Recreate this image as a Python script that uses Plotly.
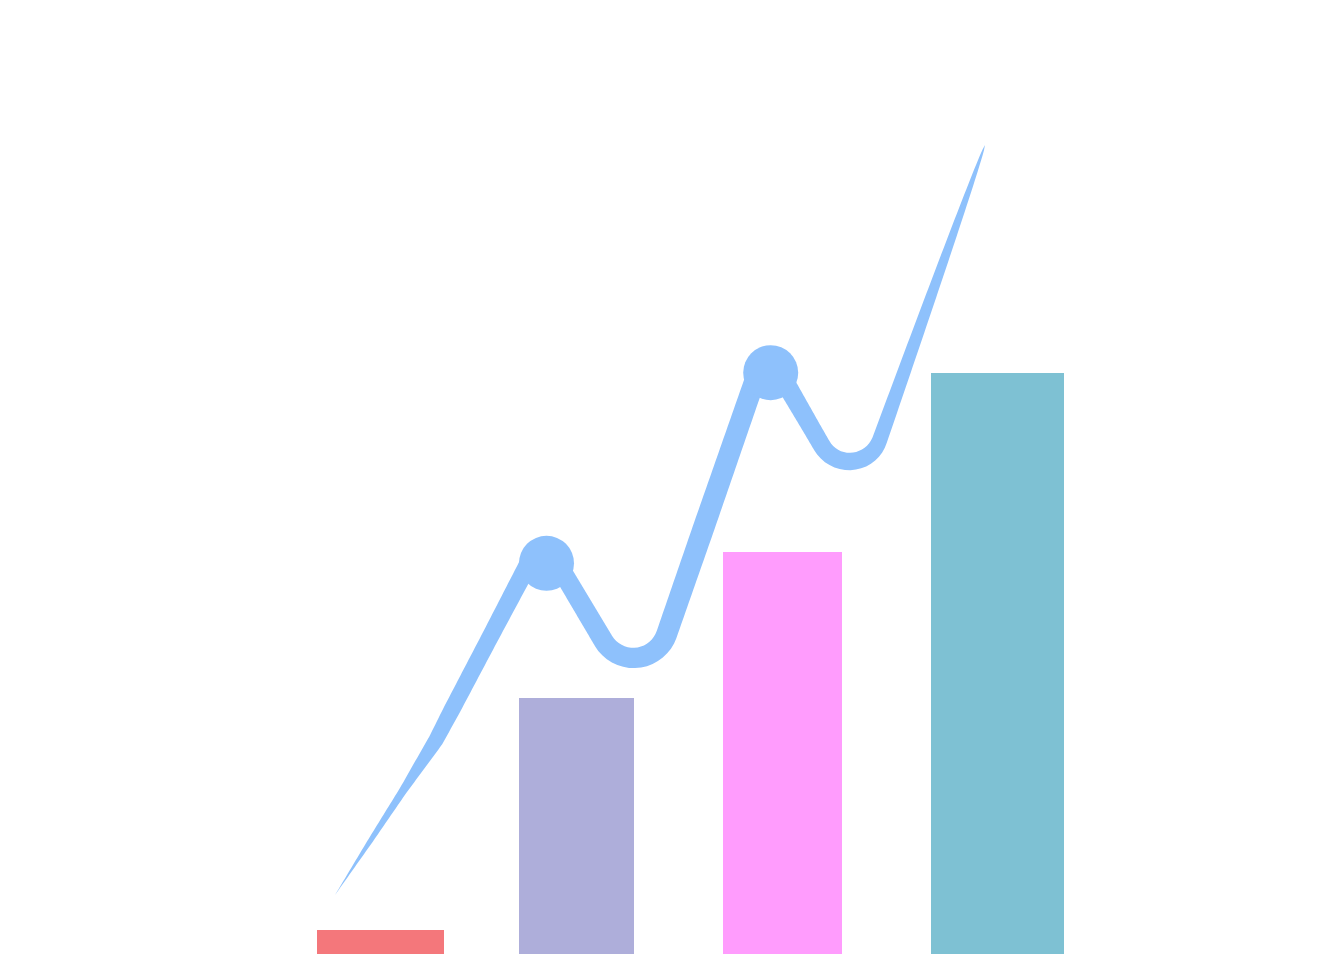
import numpy as np
import plotly.graph_objects as go

# chart units: 1 unit = 100 px on both axes, y measured up from the bottom edge
bar_x = [3.805, 5.765, 7.825, 9.975]
bar_width = [1.27, 1.15, 1.19, 1.33]
bar_value = [0.24, 2.56, 4.02, 5.81]
bar_colors = ["#F4777B", "#AEAEDA", "#FF9CFD", "#7EC1D3"]

# trend line vertices (peaks and troughs are rounded off)
line_x = [3.35, 4.357, 5.422, 6.419, 7.657, 8.564, 9.85]
line_y = [0.59, 2.135, 4.161, 2.485, 6.05, 4.488, 8.09]
# dots sitting on the two peaks
dot_x = [5.465, 7.707]
dot_y = [3.907, 5.813]

LINE_COLOR = "#8EC1FC"
# corner rounding radius for each rounded vertex (units)
corner_r = {2: 0.14, 3: 0.35, 4: 0.14, 5: 0.32}
DOT_SIZE = 55
# stroke width (px) along the line, position = segment index + fraction
width_pos = [0, 0.35, 0.68, 0.81, 1, 1.15, 1.5, 2, 3, 3.5, 4, 4.5, 5]
width_px = [0, 5, 8, 11, 15, 16.5, 17, 19, 20.5, 21.5, 20.5, 18, 17]
TAPER_POW = 0.55  # last segment narrows to a point


def fillet(prev, corner, nxt, r, n=18):
    u1 = (prev - corner) / np.linalg.norm(prev - corner)
    u2 = (nxt - corner) / np.linalg.norm(nxt - corner)
    half = np.arccos(np.clip(np.dot(u1, u2), -1, 1)) / 2
    t1 = corner + u1 * r / np.tan(half)
    t2 = corner + u2 * r / np.tan(half)
    bis = (u1 + u2) / np.linalg.norm(u1 + u2)
    c = corner + bis * r / np.sin(half)
    a1 = np.arctan2(*(t1 - c)[::-1])
    a2 = np.arctan2(*(t2 - c)[::-1])
    da = (a2 - a1 + np.pi) % (2 * np.pi) - np.pi
    ang = a1 + da * np.linspace(0, 1, n)
    return np.column_stack([c[0] + r * np.cos(ang), c[1] + r * np.sin(ang)])


def stroke_width(s):
    last = len(line_x) - 2
    if s <= last:
        return np.interp(s, width_pos, width_px)
    return width_px[-1] * max(1 - (s - last), 0) ** TAPER_POW


def stroke_outline():
    pts = np.column_stack([line_x, line_y])
    arcs = {k: fillet(pts[k - 1], pts[k], pts[k + 1], r) for k, r in corner_r.items()}
    samples, pos = [], []
    nseg = len(pts) - 1
    for i in range(nseg):
        a, b = pts[i], pts[i + 1]
        seg_len = np.linalg.norm(b - a)
        start = arcs[i][-1] if i in arcs else a
        end = arcs[i + 1][0] if (i + 1) in arcs else b
        f0 = np.linalg.norm(start - a) / seg_len
        f1 = np.linalg.norm(end - a) / seg_len
        fr = np.linspace(f0, f1, 60)
        if i < nseg - 1:
            fr = fr[:-1]
        for f in fr:
            samples.append(a + (b - a) * f)
            pos.append(i + f)
        if (i + 1) in arcs:
            arc = arcs[i + 1]
            nxt_len = np.linalg.norm(pts[i + 2] - pts[i + 1])
            f0n = np.linalg.norm(arc[-1] - pts[i + 1]) / nxt_len
            arc_pos = np.linspace(i + f1, i + 1 + f0n, len(arc))
            for p, s in zip(arc[:-1], arc_pos[:-1]):
                samples.append(p)
                pos.append(s)
    samples = np.array(samples)
    hw = np.array([stroke_width(s) for s in pos]) / 200.0

    left, right = [], []
    n = len(samples)
    for j in range(n):
        d_in = samples[j] - samples[j - 1] if j > 0 else samples[1] - samples[0]
        d_out = samples[j + 1] - samples[j] if j < n - 1 else samples[-1] - samples[-2]
        d_in = d_in / np.linalg.norm(d_in)
        d_out = d_out / np.linalg.norm(d_out)
        n_in = np.array([-d_in[1], d_in[0]])
        n_out = np.array([-d_out[1], d_out[0]])
        m = n_in + n_out
        m = m / np.linalg.norm(m)
        scale = hw[j] / max(np.dot(m, n_in), 0.2)
        left.append(samples[j] + m * scale)
        right.append(samples[j] - m * scale)
    poly = np.array(left + right[::-1] + [left[0]])
    return poly[:, 0], poly[:, 1]


fig = go.Figure()

fig.add_trace(go.Bar(
    x=bar_x, y=bar_value, width=bar_width,
    marker=dict(color=bar_colors, line=dict(width=0)),
    hoverinfo="skip",
))

sx, sy = stroke_outline()
fig.add_trace(go.Scatter(
    x=sx, y=sy, mode="lines", fill="toself",
    fillcolor=LINE_COLOR, line=dict(width=0, color=LINE_COLOR, simplify=False),
    hoverinfo="skip",
))

fig.add_trace(go.Scatter(
    x=dot_x, y=dot_y,
    mode="markers",
    marker=dict(size=DOT_SIZE, color=LINE_COLOR, line=dict(width=0)),
    hoverinfo="skip",
))

fig.update_layout(
    width=1317, height=954,
    margin=dict(l=0, r=0, t=0, b=0),
    paper_bgcolor="white", plot_bgcolor="white",
    showlegend=False,
    xaxis=dict(range=[0, 13.17], visible=False, fixedrange=True),
    yaxis=dict(range=[0, 9.54], visible=False, fixedrange=True),
)

fig.write_html("out.html", config={"displayModeBar": False},
               post_script="document.body.style.margin='0';")
